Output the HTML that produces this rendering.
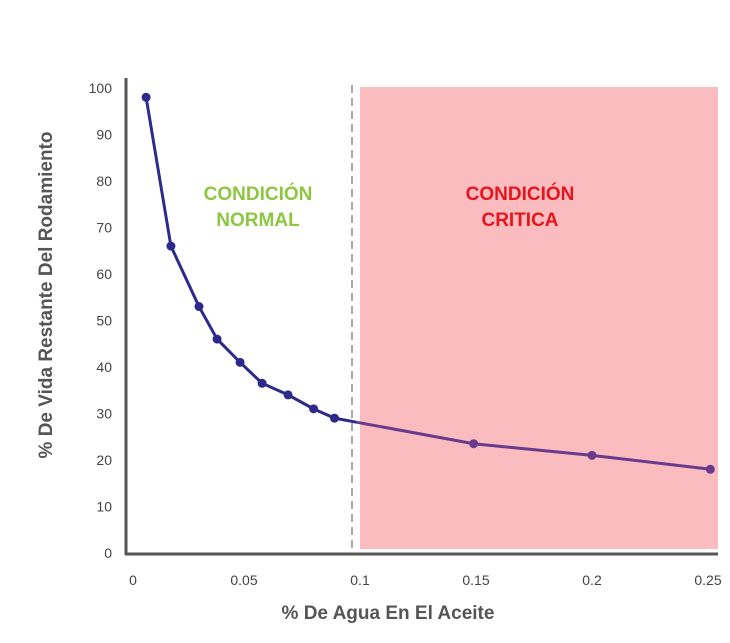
<!DOCTYPE html>
<html><head><meta charset="utf-8"><style>
body{margin:0;background:#fff;}
svg text{font-family:"Liberation Sans",sans-serif;}
</style></head><body>
<svg id="chart" width="730" height="638" xmlns="http://www.w3.org/2000/svg">
<defs>
<clipPath id="cl"><rect x="0" y="0" width="356" height="638"/></clipPath>
<clipPath id="cr"><rect x="356" y="0" width="400" height="638"/></clipPath>
</defs>
<rect x="360" y="87" width="358" height="462" fill="#fbbcbf"/>
<line x1="352" y1="85" x2="352" y2="553" stroke="#aaa" stroke-width="2" stroke-dasharray="8,5"/>
<line x1="126" y1="78" x2="126" y2="555" stroke="#555" stroke-width="3"/>
<line x1="125" y1="554" x2="718" y2="554" stroke="#555" stroke-width="3"/>
<g id="yticks"></g><g id="xticks"></g>
<g id="series"></g>
<text x="258" y="200" text-anchor="middle" font-size="19" font-weight="bold" fill="#8dc63f">CONDICIÓN</text>
<text x="258" y="226" text-anchor="middle" font-size="19" font-weight="bold" fill="#8dc63f">NORMAL</text>
<text x="520" y="200" text-anchor="middle" font-size="19" font-weight="bold" fill="#e8141b">CONDICIÓN</text>
<text x="520" y="226" text-anchor="middle" font-size="19" font-weight="bold" fill="#e8141b">CRITICA</text>
<text transform="translate(52,295) rotate(-90)" text-anchor="middle" font-size="19" font-weight="bold" fill="#555">% De Vida Restante Del Rodamiento</text>
<text x="388" y="619" text-anchor="middle" font-size="19" font-weight="bold" fill="#555">% De Agua En El Aceite</text>
</svg>
<script>
const xValues=[0.0078,0.0185,0.0306,0.0384,0.0483,0.0578,0.069,0.080,0.089,0.149,0.20,0.251];
const lifeValues=[98,66,53,46,41,36.5,34,31,29,23.5,21,18];
const yTicks=[0,10,20,30,40,50,60,70,80,90,100];
const xTicks=[0,0.05,0.1,0.15,0.2,0.25];
const xTickLabels=["0","0.05","0.1","0.15","0.2","0.25"];
const NS="http://www.w3.org/2000/svg";
function sx(v){return 128+2320*v;}
function sy(v){return 553-4.65*v;}
const yt=document.getElementById('yticks');
yTicks.forEach(t=>{const e=document.createElementNS(NS,'text');


e.setAttribute('x',112);e.setAttribute('y',sy(t)+5);e.setAttribute('text-anchor','end');e.setAttribute('font-size','14');e.setAttribute('fill','#444');e.textContent=t;yt.appendChild(e);});
const xt=document.getElementById('xticks');
xTicks.forEach((t,i)=>{const e=document.createElementNS(NS,'text');


let px=sx(t);if(i===0)px=133;
e.setAttribute('x',px);e.setAttribute('y',585);e.setAttribute('text-anchor','middle');e.setAttribute('font-size','14');e.setAttribute('fill','#444');e.textContent=xTickLabels[i];xt.appendChild(e);});
const g=document.getElementById('series');
const pts=xValues.map((x,i)=>sx(x)+','+sy(lifeValues[i])).join(' ');
[['url(#cl)','#2e2a8c'],['url(#cr)','#6a3a8c']].forEach(([c,col])=>{
const gg=document.createElementNS(NS,'g');gg.setAttribute('clip-path',c);
const pl=document.createElementNS(NS,'polyline');


pl.setAttribute('points',pts);pl.setAttribute('fill','none');pl.setAttribute('stroke',col);pl.setAttribute('stroke-width','3');gg.appendChild(pl);
xValues.forEach((x,i)=>{const c2=document.createElementNS(NS,'circle');


c2.setAttribute('cx',sx(x));c2.setAttribute('cy',sy(lifeValues[i]));c2.setAttribute('r','4.5');c2.setAttribute('fill',col);gg.appendChild(c2);});
g.appendChild(gg);});
</script>
</body></html>
